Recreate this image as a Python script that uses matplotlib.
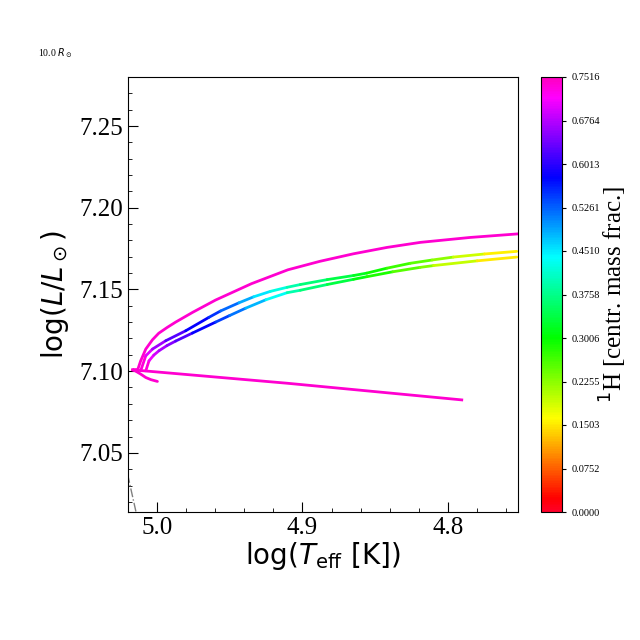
import numpy as np
import matplotlib
matplotlib.use('Agg')
import matplotlib.pyplot as plt
from matplotlib.collections import LineCollection
from matplotlib.colors import Normalize
from matplotlib.cm import ScalarMappable
from matplotlib.ticker import MultipleLocator, FormatStrFormatter

plt.rcParams['font.family'] = ['Liberation Serif', 'DejaVu Serif']

# magenta track (hook + upper branch), X_c ~ 0.74 all along
logT_a = [4.9995, 5.0040, 5.0075, 5.0110, 5.0150, 5.0166, 5.0130, 5.0110,
          5.0075, 5.0029, 4.9986, 4.9927, 4.9870, 4.9753, 4.9596, 4.9350,
          4.9100, 4.8880, 4.8650, 4.8420, 4.8190, 4.7850, 4.7520]
logL_a = [7.0937, 7.0948, 7.0961, 7.0982, 7.1003, 7.1008, 7.1010, 7.1063,
          7.1135, 7.1192, 7.1232, 7.1268, 7.1300, 7.1360, 7.1435, 7.1535,
          7.1620, 7.1672, 7.1718, 7.1757, 7.1788, 7.1818, 7.1840]

# magenta lower line
logT_d = [5.0166, 4.9105, 4.7906]
logL_d = [7.1008, 7.0926, 7.0824]

Xc_mag = 0.74

logT_b = [5.0110, 5.0075, 5.0029, 4.9938, 4.9801, 4.9642, 4.9562, 4.9436,
          4.9334, 4.9220, 4.9105, 4.9014, 4.8830, 4.8649, 4.8557, 4.8420,
          4.8260, 4.8110, 4.7964, 4.7750, 4.7529]
logL_b = [7.1002, 7.1094, 7.1135, 7.1186, 7.1247, 7.1329, 7.1368, 7.1418,
          7.1455, 7.1488, 7.1513, 7.1530, 7.1560, 7.1585, 7.1600, 7.1630,
          7.1660, 7.1680, 7.1698, 7.1717, 7.1733]
Xc_b = [0.75, 0.72, 0.68, 0.65, 0.60, 0.56, 0.54, 0.50,
        0.47, 0.44, 0.41, 0.38, 0.35, 0.33, 0.31, 0.28,
        0.26, 0.24, 0.21, 0.17, 0.14]

logT_c = [5.0075, 5.0053, 5.0020, 4.9984, 4.9930, 4.9870, 4.9755, 4.9596,
          4.9500, 4.9390, 4.9250, 4.9105, 4.9014, 4.8830, 4.8649, 4.8557,
          4.8380, 4.8192, 4.8100, 4.7800, 4.7529]
logL_c = [7.1002, 7.1063, 7.1098, 7.1125, 7.1156, 7.1184, 7.1233, 7.1300,
          7.1340, 7.1385, 7.1437, 7.1480, 7.1495, 7.1530, 7.1562, 7.1578,
          7.1608, 7.1635, 7.1646, 7.1675, 7.1698]
Xc_c = [0.75, 0.72, 0.70, 0.68, 0.66, 0.64, 0.60, 0.56,
        0.53, 0.50, 0.46, 0.41, 0.38, 0.35, 0.32, 0.30,
        0.27, 0.24, 0.22, 0.17, 0.13]

# iso-radius line, 10 Rsun
logT_r = [5.0200, 5.0120]
logL_r = [7.0370, 7.0050]

Xmax = 0.7516
cbar_ticks = np.linspace(0, Xmax, 11)

fig = plt.figure(figsize=(6.4, 6.4), dpi=100)
ax = fig.add_axes([128/640, 128/640, 390/640, 435/640])
cax = fig.add_axes([540.7/640, 128/640, 21.6/640, 435/640])

cmap = plt.get_cmap('gist_rainbow')
norm = Normalize(0, Xmax)


def add_track(x, y, c):
    pts = np.column_stack([x, y]).reshape(-1, 1, 2)
    segs = np.concatenate([pts[:-1], pts[1:]], axis=1)
    c = np.asarray(c)
    lc = LineCollection(segs, cmap=cmap, norm=norm, linewidth=2,
                        capstyle='round', joinstyle='round')
    lc.set_array(0.5*(c[:-1] + c[1:]))
    ax.add_collection(lc)


ax.plot(logT_r, logL_r, color='gray', ls='-.', lw=1)
ax.plot(logT_d, logL_d, color=cmap(norm(Xc_mag)), lw=2)
add_track(logT_c, logL_c, Xc_c)
add_track(logT_b, logL_b, Xc_b)
ax.plot(logT_a, logL_a, color=cmap(norm(Xc_mag)), lw=2,
        solid_joinstyle='round', solid_capstyle='round')

ax.set_xlim(5.0197, 4.752)
ax.set_ylim(7.0138, 7.280)
ax.xaxis.set_major_locator(MultipleLocator(0.1))
ax.xaxis.set_minor_locator(MultipleLocator(0.02))
ax.yaxis.set_major_locator(MultipleLocator(0.05))
ax.yaxis.set_minor_locator(MultipleLocator(0.01))
ax.xaxis.set_major_formatter(FormatStrFormatter('%.1f'))
ax.yaxis.set_major_formatter(FormatStrFormatter('%.2f'))
ax.tick_params(which='both', direction='in', top=False, right=False,
               labelsize=18)
ax.tick_params(which='major', length=7)
ax.tick_params(which='minor', length=3)

ax.set_xlabel(r'log($T_{\rm eff}$ [K])', fontsize=20, family='DejaVu Sans')
ax.set_ylabel(r'log($L/L_\odot$)', fontsize=20, family='DejaVu Sans')
ax.xaxis.set_label_coords(0.5, -0.065)
ax.yaxis.set_label_coords(-0.145, 0.5)

sm = ScalarMappable(norm=norm, cmap=cmap)
cb = fig.colorbar(sm, cax=cax, ticks=cbar_ticks, format='%.4f')
cb.ax.tick_params(labelsize=7.5, length=3)
cb.set_label(r'$^1$H [centr. mass frac.]', fontsize=18)
cb.ax.yaxis.set_label_coords(2.65, 0.5)

fig.text(38/640, 1 - 53/640, r'10.0 $R_\odot$', fontsize=7, va='center')

fig.savefig('out.png', dpi=100)
